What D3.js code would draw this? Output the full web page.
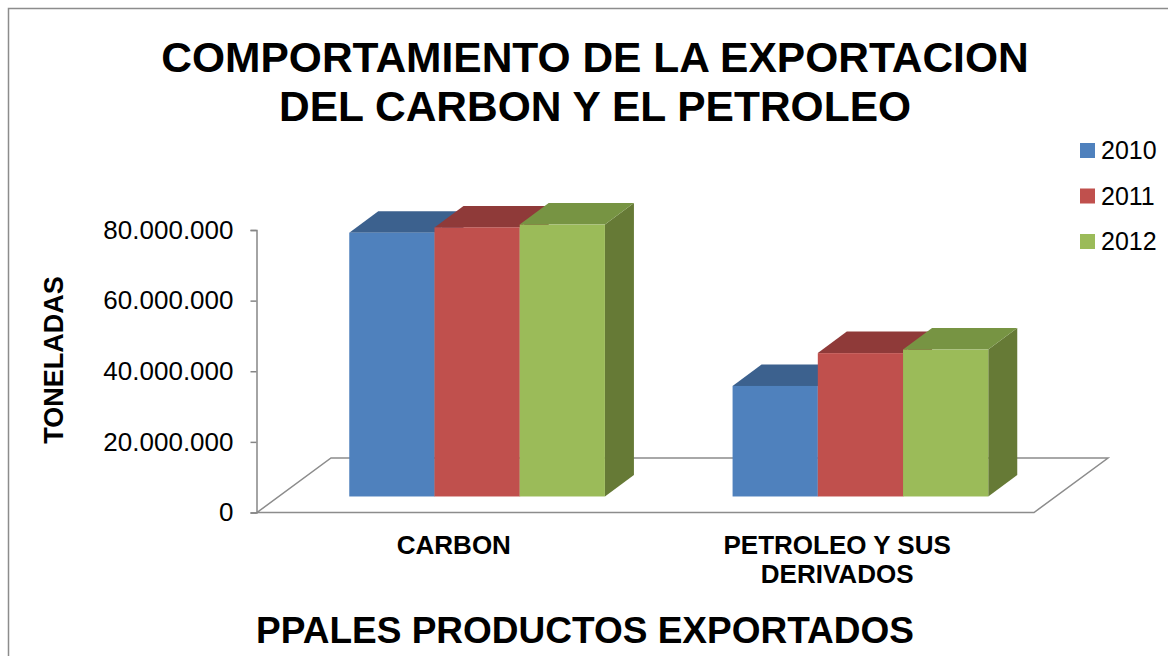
<!DOCTYPE html>
<html>
<head>
<meta charset="utf-8">
<script src="https://cdn.jsdelivr.net/npm/d3@7"></script>
<style>
  body { margin: 0; background: #fff; }
  svg { display: block; font-family: "Liberation Sans", Arial, sans-serif; }
</style>
</head>
<body>
<div></div>
<script>
// data
const categories = ["CARBON", "PETROLEO Y SUS DERIVADOS"];
const categoryLines = [["CARBON"], ["PETROLEO Y SUS", "DERIVADOS"]];
const years = ["2010", "2011", "2012"];
const carbon = [74.7e6, 76.2e6, 77.0e6];
const petroleo = [31.3e6, 40.6e6, 41.6e6];
const yTicks = [0, 20e6, 40e6, 60e6, 80e6];

const front = ["#4f81bd", "#c0504d", "#9bbb59"];
const topC = ["#3c618e", "#8f3a39", "#779443"];
const sideC = ["#2f4d72", "#72302e", "#667a36"];

const w = 1168;
const h = 656;
const svg = d3.select("div").append("svg").attr("width", w).attr("height", h);

// chart border (only top & left show in frame)
svg.append("path")
  .attr("d", "M8.5,656 V8.5 H1168")
  .attr("fill", "none")
  .attr("stroke", "#8c8c8c")
  .attr("stroke-width", 1.5);

const y = d3.scaleLinear().domain([0, 80e6]).range([512.5, 230]);
const x0 = d3.scaleBand().domain(categories).range([257, 1034])
  .paddingInner(0.333).paddingOuter(0.18);
const x1 = d3.scaleBand().domain(years).range([0, x0.bandwidth()]);

// floor depth and bar placement inside it
const fdx = 74, fdy = -54.5;
const t = 0.294;
const offX = fdx * t + 1.5, offY = fdy * t;
const bdx = 29, bdy = -21.5;

// floor
const fl = x0.range();
svg.append("polygon")
  .attr("points", [
    [fl[0], y(0)], [fl[1], y(0)], [fl[1] + fdx, y(0) + fdy], [fl[0] + fdx, y(0) + fdy]
  ].join(" "))
  .attr("fill", "none")
  .attr("stroke", "#8c8c8c")
  .attr("stroke-width", 1.5);

// y axis
const loc = d3.formatLocale({ decimal: ",", thousands: ".", grouping: [3], currency: ["$", ""] });
const yAxis = svg.append("g")
  .attr("transform", "translate(256.5,0)")
  .call(d3.axisLeft(y).tickValues(yTicks).tickFormat(loc.format(",")).tickSize(6).tickPadding(17));
yAxis.select(".domain").attr("stroke", "#868686").attr("stroke-width", 1.5);
yAxis.selectAll(".tick line").attr("stroke", "#868686").attr("stroke-width", 1.5);
yAxis.selectAll(".tick text")
  .attr("font-size", 26)
  .attr("font-family", "Liberation Sans, Arial, sans-serif")
  .attr("fill", "#000");

// bars
const rows = categories.map((c, i) => ({ cat: c, vals: i === 0 ? carbon : petroleo }));
rows.forEach((r) => {
  const g = svg.append("g");
  r.vals.forEach((v, j) => {
    const xl = x0(r.cat) + x1(years[j]) + offX;
    const xr = xl + x1.bandwidth();
    const yt = y(v) + offY;
    const yb = y(0) + offY;
    g.append("polygon")
      .attr("points", [[xr, yt], [xr + bdx, yt + bdy], [xr + bdx, yb + bdy], [xr, yb]].join(" "))
      .attr("fill", sideC[j]);
    g.append("polygon")
      .attr("points", [[xl, yt], [xl + bdx, yt + bdy], [xr + bdx, yt + bdy], [xr, yt]].join(" "))
      .attr("fill", topC[j]);
    g.append("rect")
      .attr("x", xl)
      .attr("y", yt)
      .attr("width", x1.bandwidth())
      .attr("height", yb - yt)
      .attr("fill", front[j]);
  });
});

// category labels
categories.forEach((c, i) => {
  const t = svg.append("text")
    .attr("x", x0(c) + x0.bandwidth() / 2)
    .attr("y", 554)
    .attr("text-anchor", "middle")
    .attr("font-size", 26)
    .attr("font-weight", "bold");
  categoryLines[i].forEach((line, k) => {
    t.append("tspan")
      .attr("x", x0(c) + x0.bandwidth() / 2)
      .attr("dy", k === 0 ? 0 : 29)
      .text(line);
  });
});

// titles
svg.append("text")
  .attr("x", 595).attr("y", 72)
  .attr("text-anchor", "middle")
  .attr("font-size", 42.5).attr("font-weight", "bold")
  .text("COMPORTAMIENTO DE LA EXPORTACION");
svg.append("text")
  .attr("x", 595).attr("y", 121)
  .attr("text-anchor", "middle")
  .attr("font-size", 42.5).attr("font-weight", "bold")
  .text("DEL CARBON Y EL PETROLEO");

svg.append("text")
  .attr("x", 585).attr("y", 643)
  .attr("text-anchor", "middle")
  .attr("font-size", 37).attr("font-weight", "bold")
  .text("PPALES PRODUCTOS EXPORTADOS");

svg.append("text")
  .attr("transform", "translate(63,360) rotate(-90)")
  .attr("text-anchor", "middle")
  .attr("font-size", 27).attr("font-weight", "bold")
  .text("TONELADAS");

// legend
const leg = svg.append("g").attr("transform", "translate(1080,143)");
years.forEach((yr, i) => {
  leg.append("rect")
    .attr("x", 0).attr("y", i * 45.5)
    .attr("width", 15).attr("height", 15)
    .attr("fill", front[i]);
  leg.append("text")
    .attr("x", 21).attr("y", i * 45.5 + 16)
    .attr("font-size", 25)
    .text(yr);
});
</script>
</body>
</html>
